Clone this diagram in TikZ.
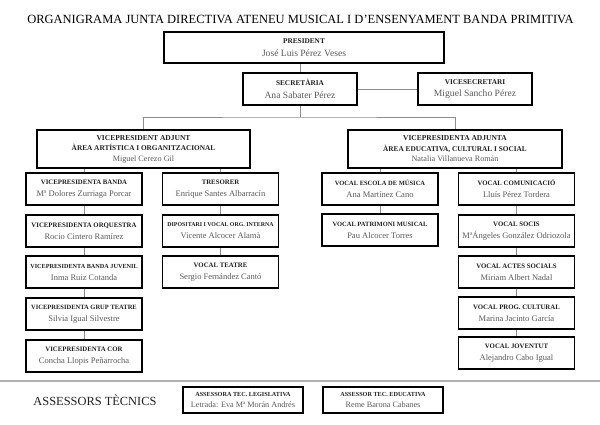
\documentclass[tikz,border=0pt]{standalone}
\usepackage{fontspec}
\setmainfont{Liberation Serif}
\definecolor{nomgris}{gray}{0.35}
\definecolor{rolgris}{gray}{0.12}
\newcommand{\rol}[2][6.8]{{\fontsize{#1}{#1}\selectfont\bfseries\color{rolgris}#2}}
\newcommand{\nom}[1]{{\color{nomgris}#1}}
\tikzset{
  carrec/.style = {
    draw, line width=1.1pt, inner sep=0pt, align=center,
    minimum width=116pt, minimum height=32pt,
    font=\fontsize{8.5}{12}\selectfont
  },
  gran/.style = {font=\fontsize{9.6}{12.5}\selectfont},
  enllac/.style = {draw=black!45, line width=0.8pt},
  separador/.style = {draw=black!30, line width=1.5pt}
}

\begin{document}
\begin{tikzpicture}[x=1pt,y=-1pt]
  \useasboundingbox (0,0) rectangle (600,424);
  \node[font=\fontsize{12.5}{14}\selectfont] (titol) at (300.5,19.5)
    {ORGANIGRAMA JUNTA DIRECTIVA ATENEU MUSICAL I D’ENSENYAMENT BANDA PRIMITIVA};

  \node[carrec, gran, minimum width=280pt, minimum height=31pt] (pres) at (304,47.5)
    {\rol[7.3]{PRESIDENT}\\\nom{José Luis Pérez Veses}};
  \node[carrec, gran, minimum width=114pt] (sec) at (300,89)
    {\rol[7.3]{SECRETÀRIA}\\\nom{Ana Sabater Pérez}};
  \node[carrec, gran, minimum width=114pt] (vsec) at (475,89)
    {\rol[7.3]{VICESECRETARI}\\\nom{Miguel Sancho Pérez}};
  \coordinate (bus) at (300,117);

  \node[carrec, minimum width=213pt, minimum height=38pt, font=\fontsize{8.2}{10.5}\selectfont] (vpl) at (143.5,149)
    {\rol[7.5]{VICEPRESIDENT ADJUNT}\\\rol[7.3]{ÀREA ARTÍSTICA I ORGANITZACIONAL}\\\nom{Miguel Cerezo Gil}};
  \node[carrec, minimum width=214pt, minimum height=38pt, font=\fontsize{8.2}{10.5}\selectfont] (vpr) at (455,149)
    {\rol[7.5]{VICEPRESIDENTA ADJUNTA}\\\rol[7.3]{ÀREA EDUCATIVA, CULTURAL I SOCIAL}\\\nom{Natalia Villanueva Román}};

  % columna artistica
  \node[carrec] (banda) at (84,189) {\rol{VICEPRESIDENTA BANDA}\\\nom{Mª Dolores Zurriaga Porcar}};
  \node[carrec] (orquestra) at (84,231) {\rol{VICEPRESIDENTA ORQUESTRA}\\\nom{Rocio Cintero Ramírez}};
  \node[carrec] (juvenil) at (84,272) {\rol[6.2]{VICEPRESIDENTA BANDA JUVENIL}\\\nom{Inma Ruiz Cotanda}};
  \node[carrec] (teatre) at (84,314) {\rol[6.5]{VICEPRESIDENTA GRUP TEATRE}\\\nom{Silvia Igual Silvestre}};
  \node[carrec] (cor) at (84,356) {\rol{VICEPRESIDENTA COR}\\\nom{Concha Llopis Peñarrocha}};

  \node[carrec] (tresorer) at (220.5,189) {\rol{TRESORER}\\\nom{Enrique Santes Albarracín}};
  \node[carrec] (dipositari) at (220.5,231) {\rol[5.9]{DIPOSITARI I VOCAL ORG. INTERNA}\\\nom{Vicente Alcocer Alamà}};
  \node[carrec] (vteatre) at (220.5,272) {\rol{VOCAL TEATRE}\\\nom{Sergio Fernández Cantó}};

  % columna educativa
  \node[carrec] (escola) at (380,189) {\rol[6.5]{VOCAL ESCOLA DE MÚSICA}\\\nom{Ana Martínez Cano}};
  \node[carrec] (patrimoni) at (380,230) {\rol[6.5]{VOCAL PATRIMONI MUSICAL}\\\nom{Pau Alcocer Torres}};

  \node[carrec] (comunicacio) at (516.5,189) {\rol{VOCAL COMUNICACIÓ}\\\nom{Lluís Pérez Tordera}};
  \node[carrec] (socis) at (516.5,231) {\rol{VOCAL SOCIS}\\\nom{MªÁngeles González Odriozola}};
  \node[carrec] (actes) at (516.5,272) {\rol{VOCAL ACTES SOCIALS}\\\nom{Miriam Albert Nadal}};
  \node[carrec] (prog) at (516.5,313) {\rol{VOCAL PROG. CULTURAL}\\\nom{Marina Jacinto García}};
  \node[carrec] (joventut) at (516.5,353) {\rol{VOCAL JOVENTUT}\\\nom{Alejandro Cabo Igual}};

  \draw[enllac]
    (sec.north) -- (sec.north |- pres.south)
    (sec) -- (vsec)
    (sec.south) -- (bus)
    (vpl.north) |- (bus) -| (vpr.north)
    (banda.north) -- (banda.north |- vpl.south)
    (tresorer.north) -- (tresorer.north |- vpl.south)
    (escola.north) -- (escola.north |- vpr.south)
    (comunicacio.north) -- (comunicacio.north |- vpr.south)
    (banda) -- (orquestra)
    (orquestra) -- (juvenil)
    (juvenil) -- (teatre)
    (teatre) -- (cor)
    (tresorer) -- (dipositari)
    (dipositari) -- (vteatre)
    (escola) -- (patrimoni)
    (comunicacio) -- (socis)
    (socis) -- (actes)
    (actes) -- (prog)
    (prog) -- (joventut);

  \draw[separador] (0,381) -- (600,381);
  \node[font=\fontsize{12.4}{14}\selectfont, text=rolgris] (assessors) at (95,400) {ASSESSORS TÈCNICS};
  \node[carrec, minimum width=120pt, minimum height=26pt, font=\fontsize{8.2}{10.5}\selectfont] (legislativa) at (243,400)
    {\rol[6.2]{ASSESSORA TEC. LEGISLATIVA}\\\nom{Letrada: Eva Mª Morán Andrés}};
  \node[carrec, minimum width=120pt, minimum height=26pt, font=\fontsize{8.2}{10.5}\selectfont] (educativa) at (383,400)
    {\rol[6.2]{ASSESSOR TEC. EDUCATIVA}\\\nom{Reme Barona Cabanes}};
\end{tikzpicture}
\end{document}
